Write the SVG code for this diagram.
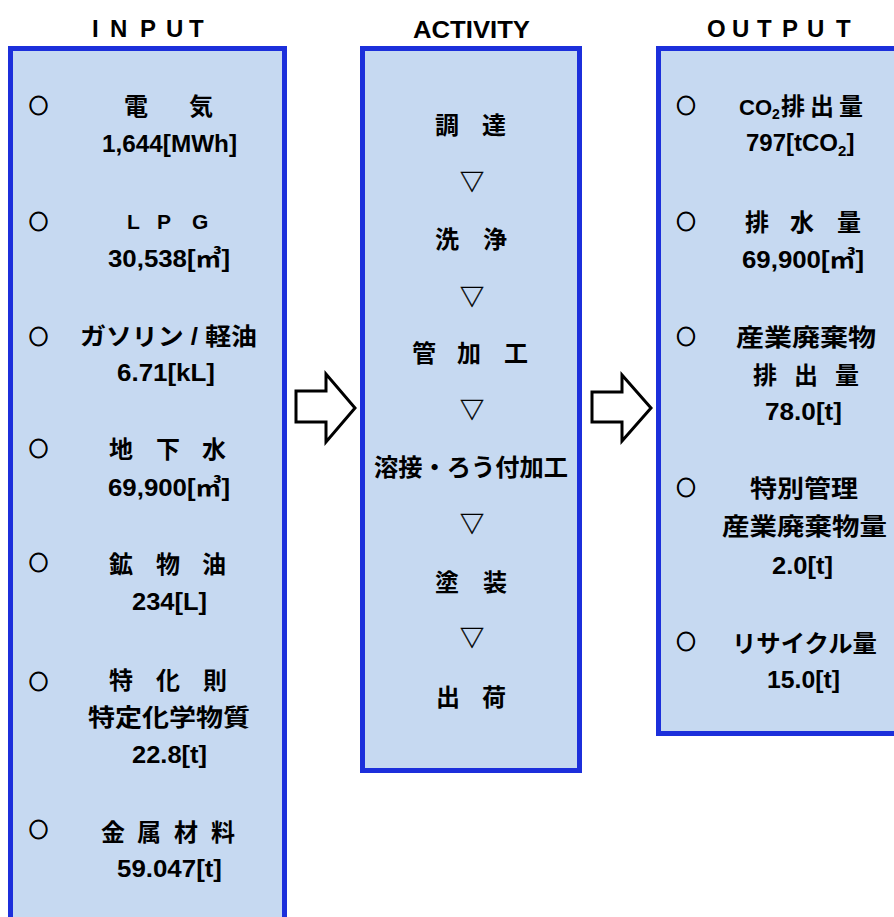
<svg xmlns="http://www.w3.org/2000/svg" width="894" height="917" viewBox="0 0 894 917">
<style>
.box{fill:#C6D9F1;stroke:#1C2FDB;stroke-width:5}
.t{font-family:"Liberation Sans","Noto Sans CJK JP",sans-serif;font-weight:bold;font-size:24px;fill:#000}
.b{font-family:"Noto Sans CJK JP",sans-serif;font-weight:bold;font-size:19px;fill:#000;stroke:#000;stroke-width:1.1;text-anchor:middle}
.v{font-family:"Noto Sans CJK JP",sans-serif;font-size:24px;fill:#000;stroke:#000;stroke-width:0.4;text-anchor:middle}
.arrow{fill:#fff;stroke:#000;stroke-width:3}
</style>
<rect width="894" height="917" fill="#fff"/>

<g id="titles">
<text class="t" x="92 110 140 166 189" y="37">INPUT</text>
<text class="t" x="413" y="38" textLength="117" lengthAdjust="spacingAndGlyphs">ACTIVITY</text>
<text class="t" x="707 732 757 782 807 836" y="37">OUTPUT</text>
</g>

<g id="input">
<rect class="box" x="10.5" y="48.5" width="274" height="890"/>
<g class="b">
<text x="38.5" y="113">○</text>
<text x="38.5" y="229">○</text>
<text x="38.5" y="344">○</text>
<text x="38.5" y="456">○</text>
<text x="38.5" y="570">○</text>
<text x="38.5" y="689">○</text>
<text x="38.5" y="837">○</text>
</g>
<text class="t" x="124 189" y="115">電気</text>
<text class="t" x="102" y="152" textLength="135" lengthAdjust="spacingAndGlyphs">1,644[MWh]</text>
<text class="t" y="229" style="font-size:21px"><tspan x="127">L</tspan><tspan x="157">P</tspan><tspan x="192">G</tspan></text>
<text class="t" x="108" y="267" textLength="122" lengthAdjust="spacingAndGlyphs">30,538[㎥]</text>
<text class="t" x="80" y="345" textLength="177" lengthAdjust="spacingAndGlyphs">ガソリン / 軽油</text>
<text class="t" x="117" y="381" textLength="98" lengthAdjust="spacingAndGlyphs">6.71[kL]</text>
<text class="t" x="109 156 202" y="458">地下水</text>
<text class="t" x="108" y="496" textLength="122" lengthAdjust="spacingAndGlyphs">69,900[㎥]</text>
<text class="t" x="109 156 202" y="573">鉱物油</text>
<text class="t" x="132" y="610" textLength="75" lengthAdjust="spacingAndGlyphs">234[L]</text>
<text class="t" x="109 156 203" y="689">特化則</text>
<text class="t" x="88" y="726" textLength="162" lengthAdjust="spacingAndGlyphs">特定化学物質</text>
<text class="t" x="132" y="763" textLength="75" lengthAdjust="spacingAndGlyphs">22.8[t]</text>
<text class="t" x="101 137 174 211" y="841">金属材料</text>
<text class="t" x="117" y="877" textLength="105" lengthAdjust="spacingAndGlyphs">59.047[t]</text>
</g>

<g id="activity">
<rect class="box" x="362.5" y="48.5" width="217" height="722"/>
<text class="t" x="435 482" y="134">調達</text>
<text class="v" x="472" y="190">▽</text>
<text class="t" x="435 483" y="248">洗浄</text>
<text class="v" x="472" y="305">▽</text>
<text class="t" x="412 457 504" y="362">管加工</text>
<text class="v" x="472" y="418">▽</text>
<text class="t" x="374" y="476" textLength="194" lengthAdjust="spacingAndGlyphs">溶接・ろう付加工</text>
<text class="v" x="472" y="532">▽</text>
<text class="t" x="435 483" y="591">塗装</text>
<text class="v" x="472" y="646">▽</text>
<text class="t" x="436 482" y="706">出荷</text>
</g>

<g id="output">
<rect class="box" x="658.5" y="48.5" width="260" height="685"/>
<g class="b">
<text x="686" y="113">○</text>
<text x="686" y="229">○</text>
<text x="686" y="344">○</text>
<text x="686" y="495">○</text>
<text x="686" y="649">○</text>
</g>
<text class="t" x="739" y="115" style="font-size:22px">CO<tspan style="font-size:14px" dy="4">2</tspan><tspan x="781 810 839" dy="-4" style="font-size:24px">排出量</tspan></text>
<text class="t" x="746" y="151">797[tCO<tspan style="font-size:15px" dy="5">2</tspan><tspan dy="-5">]</tspan></text>
<text class="t" x="745 790 837" y="231">排水量</text>
<text class="t" x="742" y="268" textLength="122" lengthAdjust="spacingAndGlyphs">69,900[㎥]</text>
<text class="t" x="736" y="346" textLength="140" lengthAdjust="spacingAndGlyphs">産業廃棄物</text>
<text class="t" x="753 794 835" y="384">排出量</text>
<text class="t" x="765" y="420" textLength="77" lengthAdjust="spacingAndGlyphs">78.0[t]</text>
<text class="t" x="750" y="497" textLength="108" lengthAdjust="spacingAndGlyphs">特別管理</text>
<text class="t" x="722" y="535" textLength="165" lengthAdjust="spacingAndGlyphs">産業廃棄物量</text>
<text class="t" x="772" y="574" textLength="61" lengthAdjust="spacingAndGlyphs">2.0[t]</text>
<text class="t" x="732" y="652" textLength="145" lengthAdjust="spacingAndGlyphs">リサイクル量</text>
<text class="t" x="767" y="688" textLength="73" lengthAdjust="spacingAndGlyphs">15.0[t]</text>
</g>

<g id="connectors">
<polygon class="arrow" points="296,391 326,391 326,374 355,408 326,442 326,422 296,422"/>
<polygon class="arrow" points="592,392 622,392 622,375 651,408 622,441 622,422 592,422"/>
</g>
</svg>
